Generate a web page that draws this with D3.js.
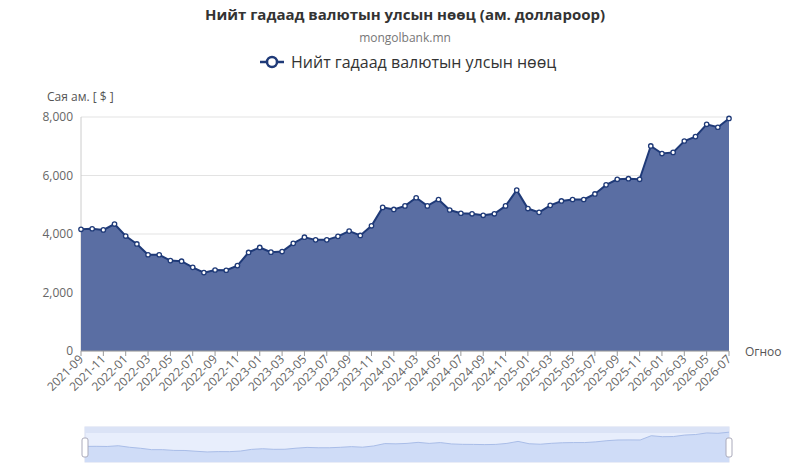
<!DOCTYPE html>
<html><head><meta charset="utf-8">
<script src="https://cdn.jsdelivr.net/npm/d3@7"></script>
<style>body{margin:0;background:#fff;font-family:"Open Sans","Noto Sans",sans-serif}</style>
</head><body><svg id="c" width="810" height="470"></svg>
<script>
const months = (()=>{const a=[];let y=2021,m=9;for(let i=0;i<59;i++){a.push(y+"-"+String(m).padStart(2,"0"));m++;if(m>12){m=1;y++;}}return a;})();
const reserves = [4160,4180,4140,4340,3930,3660,3290,3290,3090,3070,2860,2680,2770,2760,2920,3370,3540,3380,3400,3680,3890,3800,3800,3920,4100,3950,4280,4910,4840,4960,5240,4960,5180,4820,4710,4690,4640,4690,4960,5500,4870,4740,4980,5130,5180,5180,5370,5680,5870,5890,5870,7010,6750,6790,7180,7330,7750,7650,7950];
const yTicks = [0,2000,4000,6000,8000];
const svg = d3.select("#c");
const L=81,R=729,T=117,B=351;
const x = d3.scalePoint().domain(months).range([L,R]);
const y = d3.scaleLinear().domain([0,8000]).range([B,T]);
svg.append("text").attr("x",405).attr("y",20).attr("text-anchor","middle").attr("font-size",15).attr("font-weight","bold").attr("fill","#333").text("Нийт гадаад валютын улсын нөөц (ам. доллароор)");
svg.append("text").attr("x",405).attr("y",42).attr("text-anchor","middle").attr("font-size",12).attr("fill","#777").text("mongolbank.mn");
const lg=svg.append("g");
lg.append("line").attr("x1",260).attr("x2",284).attr("y1",62).attr("y2",62).attr("stroke","#1f3a78").attr("stroke-width",2.5);
lg.append("circle").attr("cx",272).attr("cy",62).attr("r",5).attr("fill","#fff").attr("stroke","#1f3a78").attr("stroke-width",2.5);
lg.append("text").attr("x",291).attr("y",68).attr("font-size",16).attr("fill","#333").text("Нийт гадаад валютын улсын нөөц");
svg.append("text").attr("x",47).attr("y",101).attr("font-size",12).attr("fill","#555").text("Сая ам. [ $ ]");
svg.append("text").attr("x",745).attr("y",356).attr("font-size",12).attr("fill","#555").text("Огноо");
// grid
svg.append("g").selectAll("line").data(yTicks).join("line").attr("x1",L).attr("x2",R).attr("y1",d=>y(d)).attr("y2",d=>y(d)).attr("stroke","#e3e3e3");
svg.append("g").selectAll("text").data(yTicks).join("text").attr("x",L-8).attr("y",d=>y(d)+4).attr("text-anchor","end").attr("font-size",12).attr("fill","#666").text(d3.format(","));
svg.append("line").attr("x1",L).attr("x2",L).attr("y1",T).attr("y2",B).attr("stroke","#ccc");
const area=d3.area().x((d,i)=>x(months[i])).y0(B).y1(d=>y(d));
svg.append("path").datum(reserves).attr("d",area).attr("fill","#5a6ea3");
const line=d3.line().x((d,i)=>x(months[i])).y(d=>y(d));
svg.append("path").datum(reserves).attr("d",line).attr("fill","none").attr("stroke","#1f3a78").attr("stroke-width",2);
svg.append("g").selectAll("circle").data(reserves).join("circle").attr("cx",(d,i)=>x(months[i])).attr("cy",d=>y(d)).attr("r",2.2).attr("fill","#fff").attr("stroke","#1f3a78").attr("stroke-width",1.3);
// x axis
svg.append("line").attr("x1",L).attr("x2",R).attr("y1",B).attr("y2",B).attr("stroke","#999");
const lab=months.filter((d,i)=>i%2===0);
svg.append("g").selectAll("line").data(lab).join("line").attr("x1",d=>x(d)).attr("x2",d=>x(d)).attr("y1",B).attr("y2",B+5).attr("stroke","#999");
svg.append("g").selectAll("text").data(lab).join("text").attr("transform",d=>`translate(${x(d)+3},${B+9}) rotate(-45)`).attr("text-anchor","end").attr("font-size",12).attr("fill","#666").text(d=>d);
// slider
const sx=d3.scalePoint().domain(months).range([85,729]);
const sy=d3.scaleLinear().domain([0,8000]).range([462,432]);
svg.append("rect").attr("x",85).attr("y",427).attr("width",644).attr("height",35).attr("fill","#e8eefc").attr("stroke","#d5dcef");
svg.append("rect").attr("x",85).attr("y",427).attr("width",644).attr("height",6).attr("fill","#dbe3f6");
svg.append("path").datum(reserves).attr("d",d3.area().x((d,i)=>sx(months[i])).y0(462).y1(d=>sy(d))).attr("fill","#cfdcf7");
svg.append("path").datum(reserves).attr("d",d3.line().x((d,i)=>sx(months[i])).y(d=>sy(d))).attr("fill","none").attr("stroke","#a9bde8");
[85,729].forEach(v=>svg.append("rect").attr("x",v-3).attr("y",438).attr("width",6).attr("height",19).attr("rx",2).attr("fill","#fff").attr("stroke","#aab"));
</script></body></html>
